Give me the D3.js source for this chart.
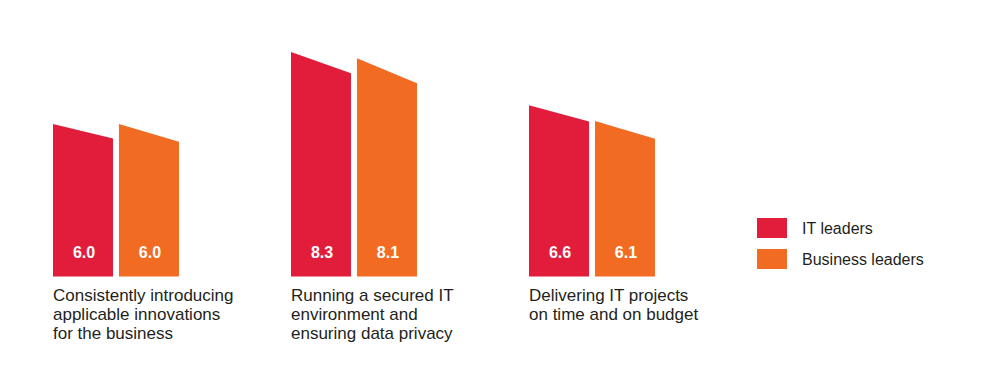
<!DOCTYPE html>
<html>
<head>
<meta charset="utf-8">
<script src="https://cdn.jsdelivr.net/npm/d3@7"></script>
<style>
  html, body { margin: 0; padding: 0; background: #fff; }
  svg { display: block; font-family: "Liberation Sans", Arial, Helvetica, sans-serif; }
</style>
</head>
<body>
<svg id="chart" width="1000" height="381"></svg>
<script>
// ── Data ─────────────────────────────────────────────────────────────────────
const categories = [
  ['Consistently introducing', 'applicable innovations', 'for the business'],
  ['Running a secured IT', 'environment and', 'ensuring data privacy'],
  ['Delivering IT projects', 'on time and on budget']
];
const seriesNames    = ['IT leaders', 'Business leaders'];
const itLeaders       = [6.0, 8.3, 6.6];
const businessLeaders = [6.0, 8.1, 6.1];

// ── Styles ───────────────────────────────────────────────────────────────────
const colors    = ['#e21d3b', '#f26b23'];
const slantRate = [0.095, 0.115];   // top edge drop as share of bar height
const textColor = '#231f20';

const svg = d3.select('#chart');
const baseline = 276.5;

// ── Scales ───────────────────────────────────────────────────────────────────
const catIdx = categories.map((c, i) => i);
const x0 = d3.scaleBand().domain(catIdx).range([53, 655]).paddingInner(0.4706).paddingOuter(0);
const x1 = d3.scaleBand().domain([0, 1]).range([0, x0.bandwidth()]).paddingInner(0.09);
const y  = d3.scaleLinear().domain([1.14, 8.3]).range([baseline, 52]);

const rows = catIdx.map(i => [itLeaders[i], businessLeaders[i]]);

// ── Bars ─────────────────────────────────────────────────────────────────────
const groups = svg.selectAll('.group')
  .data(rows)
  .join('g')
  .attr('class', 'group')
  .attr('transform', (d, i) => `translate(${x0(i)},0)`);

const bars = groups.selectAll('.bar')
  .data(d => d.map((v, s) => ({ v, s })))
  .join('g')
  .attr('class', 'bar');

bars.append('path')
  .attr('fill', d => colors[d.s])
  .attr('d', d => {
    const left  = x1(d.s);
    const right = left + x1.bandwidth();
    const top   = y(d.v);
    const drop  = (baseline - top) * slantRate[d.s];
    return `M${left},${baseline}L${left},${top}L${right},${top + drop}L${right},${baseline}Z`;
  });

bars.append('text')
  .attr('x', d => x1(d.s) + x1.bandwidth() / 2 + 1)
  .attr('y', baseline - 18.5)
  .attr('text-anchor', 'middle')
  .attr('fill', '#fff')
  .attr('font-weight', 'bold')
  .attr('font-size', '16px')
  .text(d => d.v.toFixed(1));

// ── Category labels ──────────────────────────────────────────────────────────
groups.append('text')
  .attr('fill', textColor)
  .attr('font-size', '17px')
  .selectAll('tspan')
  .data((d, i) => categories[i])
  .join('tspan')
  .attr('x', 0)
  .attr('y', (d, j) => 300.5 + j * 19.3)
  .text(d => d);

// ── Legend ───────────────────────────────────────────────────────────────────
const legend = svg.append('g').attr('transform', 'translate(757,218)');
const items = legend.selectAll('g')
  .data(seriesNames)
  .join('g')
  .attr('transform', (d, i) => `translate(0,${i * 31})`);

items.append('rect')
  .attr('width', 30)
  .attr('height', 20)
  .attr('fill', (d, i) => colors[i]);

items.append('text')
  .attr('x', 45)
  .attr('y', 16)
  .attr('fill', textColor)
  .attr('font-size', '16px')
  .text(d => d);
</script>
</body>
</html>
